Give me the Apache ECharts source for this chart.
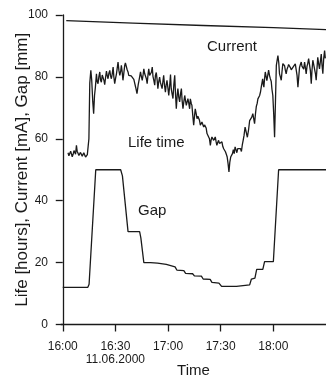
<!DOCTYPE html>
<html>
<head>
<meta charset="utf-8">
<script src="https://cdn.jsdelivr.net/npm/echarts@6/dist/echarts.min.js"></script>
<style>
html,body{margin:0;padding:0;background:#fff;}
#chart{width:326px;height:377px;}
</style>
</head>
<body>
<div id="chart"></div>
<script>
// time in minutes after 16:00
const xTickValues = [0, 30, 60, 90, 120];
const xTickLabels = ['16:00', '16:30\n11.06.2000', '17:00', '17:30', '18:00'];
const yTickValues = [0, 20, 40, 60, 80, 100];

const currentData = [[2,98.2],[40,97.4],[80,96.6],[120,95.9],[150,95.3]];

const gapData = [[0,12],[14.3,12],[15,13],[18.8,50],[33,50],[34,48],[37.2,30],[43.8,30],[44.5,28],[46.2,20],[50,20],[54,19.8],[55,19.4],[59,19.4],[60,18.8],[64,18.6],[65,17.6],[69,17.4],[70,16.5],[74,16.4],[75,15.7],[79,15.6],[80,14.7],[84,14.6],[85,13.6],[89,13.4],[90.5,12.3],[99,12.3],[100,12.8],[106.5,12.8],[107.5,14.7],[109.5,15],[110.5,17.8],[114,17.8],[115,20.3],[120,20.3],[123,50],[150,50]];

const lifeData = [[3.0,55.5],[3.5,54.5],[4.0,54.7],[4.5,56],[4.9,55.2],[5.4,54.2],[5.9,55],[6.4,56.2],[6.8,56.8],[7.3,55],[7.8,57.9],[8.2,56],[8.7,55.3],[9.2,54.6],[9.7,54.2],[10.1,55.6],[10.6,55.2],[11.1,54.4],[11.6,54],[12,55.5],[12.5,54.8],[13,54.1],[13.5,54.3],[14,54.9],[14.4,54.3],
[14.9,60],[15.4,78],[16.0,82.1],[16.5,79],[17.1,72],[17.6,68.1],[18.1,74],[18.6,76.7],[19.2,81.0],[19.6,78.5],[20.1,77.8],[20.6,80.2],[21.1,81.6],[21.5,79],[22.0,78.3],[22.5,80.6],[23.0,81.0],[23.5,78.8],[23.9,77.5],[24.4,79.8],[24.9,81.9],[25.3,80.5],[25.8,79.4],[26.3,81.2],[26.8,82.1],[27.2,80.4],[27.7,79.4],[28.2,81],[28.7,83.2],[29.1,80.1],[29.6,77.8],[30.1,79.5],[30.6,81.0],[31.0,82.7],[31.5,84.8],[32.0,82.1],[32.5,80.5],[33.0,81.8],[33.4,83.7],[33.9,81.4],[34.3,78.9],[34.8,81.2],[35.3,83.7],[35.7,84.5],[36.2,84.3],[36.7,82.3],[37.2,81.6],[37.6,80.5],[38.1,79.9],[39.0,80.3],[40.0,80.5],[40.5,79.2],[41.0,78.9],[41.6,76.5],[42.3,74.6],[43.0,77.5],[43.8,79.9],[44.3,81.6],[44.8,80.1],[45.3,78.9],[45.8,80.8],[46.2,82.6],[46.7,81.0],[47.1,81.4],[47.6,79.5],[48.1,77.8],[48.6,80.8],[49.0,82.6],[49.5,80.5],[50.0,79.9],[50.5,81.5],[51.0,83.2],[51.4,80.2],[51.9,78.9],[52.4,77.3],[52.8,80.5],[53.3,81.4],[53.8,78.9],[54.2,76.2],[54.7,78.5],[55.2,79.9],[55.6,78.3],[56.1,77.8],[56.6,76.2],[57.0,78.2],[57.5,80.5],[58.0,77.2],[58.5,75.1],[58.9,77.3],[59.4,78.9],[59.9,76.5],[60.4,74.0],[60.9,77],[61.4,80.8],[61.8,76.2],[62.3,74.5],[62.8,73.0],[63.3,77.5],[63.8,80.5],[64.2,75],[64.7,69.7],[65.2,74],[65.6,76.2],[66.1,73.5],[66.6,71.9],[67.1,74.5],[67.6,76.2],[68.0,72.5],[68.5,69.7],[69.0,72],[69.5,74.0],[69.9,72.5],[70.4,70.8],[70.9,72],[71.3,73.0],[71.8,71.5],[72.3,69.7],[72.7,72.9],[73.2,71.5],[73.6,70.8],[74.1,67.5],[74.6,64.4],[75.1,67.5],[75.5,69.7],[76.0,68.2],[76.5,66.5],[77.0,67.3],[77.4,67.6],[77.9,66],[78.4,64.4],[78.9,65],[79.3,65.4],[79.8,64.6],[80.3,63.8],[80.8,64.5],[81.2,64.9],[81.7,63.5],[82.2,61.7],[82.6,62],[83.1,62.2],[83.6,60],[84.1,57.9],[84.5,59.5],[85.0,60.6],[85.5,60],[86.0,59.5],[86.4,60],[86.9,60.6],[87.4,59],[87.8,57.9],[88.3,58.8],[88.8,59.5],[89.3,58.5],[89.8,57.9],[90.2,58.5],[90.7,59.0],[91.2,57.5],[91.7,56.8],[92.2,56.2],[92.7,55.8],[93.2,55],[93.7,54.1],[94.2,52],[94.7,49.3],[95.2,52.5],[95.7,54.1],[96.2,53.5],[96.7,55.2],[97.2,56.5],[97.7,55.2],[98.2,57.4],[98.7,56.5],[99.2,55.5],[99.7,56.8],[100.3,57.4],[100.8,56.2],[101.3,56.8],[101.8,55.9],[102.3,58],[102.8,59.5],[103.3,61.1],[103.9,63.8],[104.6,62],[105.2,60.5],[105.9,63],[106.5,65.9],[107.0,65.9],[107.7,67],[108.3,68.1],[108.8,66.5],[109.3,64.9],[109.8,68],[110.3,70.5],[110.8,71.5],[111.2,72.9],[111.7,73.2],[112.2,74.0],[112.7,75.2],[113.1,76.7],[113.5,78],[113.9,79.4],[114.3,77.5],[114.6,76.7],[115.0,79.5],[115.4,81.6],[115.9,80],[116.3,78.8],[116.8,80.5],[117.3,82.2],[117.8,80.5],[118.2,79.6],[118.8,78.5],[119.2,76],[119.7,74],[120.2,68],[120.7,60.5],[121.2,72],[121.7,83.7],[122.2,85.5],[122.6,86.9],[123.1,84.5],[123.5,81.0],[124.0,80],[124.5,78.9],[124.9,81.5],[125.4,84.3],[125.9,84.0],[126.4,83.6],[126.8,82.3],[127.3,81],[127.8,82.5],[128.3,83.3],[128.7,84],[129.2,84.3],[129.7,83],[130.2,82.3],[130.6,82.5],[131.1,82.8],[131.6,83.5],[132.1,83.7],[132.5,84.2],[133.0,84.8],[133.5,80.5],[134.0,76.7],[134.4,79.5],[134.9,83],[135.4,84],[135.9,84.8],[136.3,83.5],[136.8,83.7],[137.3,82.5],[137.8,84.8],[138.2,83.2],[138.7,81],[139.2,83.5],[139.6,84.3],[140.1,85.9],[140.6,85.9],[141.1,82],[141.6,77.8],[142.0,82],[142.5,85.4],[143.0,84],[143.5,83.7],[144.0,81],[144.4,78.9],[144.9,83],[145.3,86.3],[145.8,84.3],[146.3,82.6],[146.8,85],[147.3,87.4],[147.7,84],[148.2,81.0],[148.7,86],[149.2,88.5],[149.6,86]];

const FONT = '"Liberation Sans", Arial, sans-serif';
const INK = '#1a1a1a';

const chart = echarts.init(document.getElementById('chart'), null, {renderer: 'canvas'});

function lineSeries(name, data) {
  return {
    name: name, type: 'line', data: data, showSymbol: false, symbol: 'none',
    lineStyle: {color: INK, width: 1.3}, animation: false, silent: true
  };
}

chart.setOption({
  backgroundColor: '#fff',
  animation: false,
  grid: {left: 61, right: 0, top: 15, bottom: 52.5, containLabel: false, outerBoundsMode: 'none'},
  xAxis: {
    type: 'value', min: -1, max: 150,
    name: 'Time', nameLocation: 'middle', nameGap: 39, nameMoveOverlap: false,
    nameTextStyle: {fontFamily: FONT, fontSize: 15, color: INK},
    axisLine: {show: true, onZero: false, lineStyle: {color: INK, width: 1.3}},
    axisTick: {show: true, inside: false, length: 7, customValues: xTickValues, lineStyle: {color: INK, width: 1.3}},
    axisLabel: {
      customValues: xTickValues, margin: 16,
      fontFamily: FONT, fontSize: 12, color: INK, lineHeight: 13,
      formatter: function (v) { const i = xTickValues.indexOf(v); return i >= 0 ? xTickLabels[i] : ''; }
    },
    splitLine: {show: false}
  },
  yAxis: {
    type: 'value', min: 0, max: 100, interval: 20,
    name: 'Life [hours], Current [mA], Gap [mm]', nameLocation: 'middle', nameGap: 30, nameMoveOverlap: false,
    nameTextStyle: {fontFamily: FONT, fontSize: 17, color: INK},
    axisLine: {show: true, lineStyle: {color: INK, width: 1.3}},
    axisTick: {show: true, inside: false, length: 7, lineStyle: {color: INK, width: 1.3}},
    axisLabel: {
      margin: 13, fontFamily: FONT, fontSize: 12, color: INK,
      formatter: function (v) { return yTickValues.indexOf(v) >= 0 ? String(v) : ''; }
    },
    splitLine: {show: false}
  },
  series: [
    lineSeries('Current', currentData),
    lineSeries('Life time', lifeData),
    lineSeries('Gap', gapData)
  ],
  graphic: [
    {type: 'text', left: 207, top: 39, style: {text: 'Current', font: '15px ' + FONT, fill: INK}},
    {type: 'text', left: 128, top: 135, style: {text: 'Life time', font: '15px ' + FONT, fill: INK}},
    {type: 'text', left: 138, top: 203, style: {text: 'Gap', font: '15px ' + FONT, fill: INK}}
  ]
});
</script>
</body>
</html>
